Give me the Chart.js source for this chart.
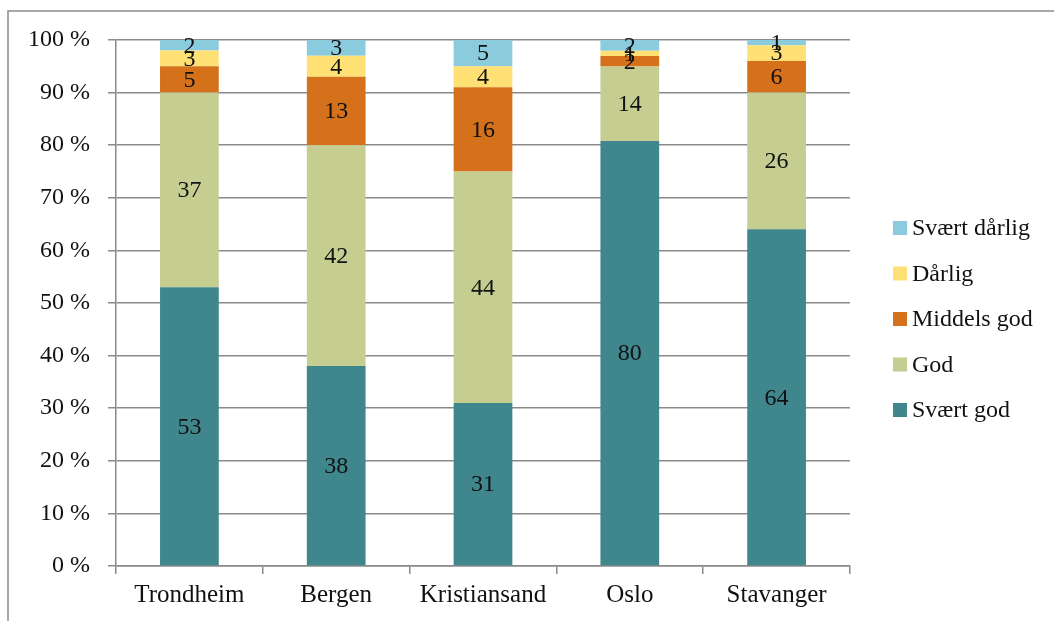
<!DOCTYPE html>
<html lang="no">
<head>
<meta charset="utf-8">
<title>Vurdering etter by</title>
<script src="https://cdn.jsdelivr.net/npm/chart.js@4/dist/chart.umd.min.js"></script>
<style>
  html, body { margin: 0; padding: 0; background: #ffffff; }
  #wrap { position: relative; width: 1054px; height: 621px; }
</style>
</head>
<body>
<div id="wrap"><canvas id="chart" width="1054" height="621"></canvas></div>
<script>
// Cities along the x axis
const cities = ['Trondheim', 'Bergen', 'Kristiansand', 'Oslo', 'Stavanger'];

// Answer counts per rating (shown as labels, stacked to 100 %)
const svaertGod    = [53, 38, 31, 80, 64];
const god          = [37, 42, 44, 14, 26];
const middelsGod   = [5, 13, 16, 2, 6];
const daarlig      = [3, 4, 4, 1, 3];
const svaertDaarlig = [2, 3, 5, 2, 1];

// Y axis ticks (percent)
const yTicks = [0, 10, 20, 30, 40, 50, 60, 70, 80, 90, 100];

const seriesNames  = ['Svært god', 'God', 'Middels god', 'Dårlig', 'Svært dårlig'];
const seriesCounts = [svaertGod, god, middelsGod, daarlig, svaertDaarlig];
const seriesColors = ['#3f878d', '#c5cd91', '#d4711a', '#ffe075', '#8bcbde'];

const FONT = '"Liberation Serif", "DejaVu Serif", serif';

// Column totals, used to turn counts into shares of 100 %
const totals = cities.map((_, i) => seriesCounts.reduce((s, arr) => s + arr[i], 0));

const datasets = seriesNames.map((name, k) => ({
  label: name,
  data: seriesCounts[k].map((v, i) => v / totals[i] * 100),
  counts: seriesCounts[k],
  backgroundColor: seriesColors[k],
  borderWidth: 0,
  barPercentage: 0.4,
  categoryPercentage: 1.0
}));

// Count labels centred in each segment
const segmentLabels = {
  id: 'segmentLabels',
  afterDatasetsDraw(chart) {
    const ctx = chart.ctx;
    ctx.save();
    ctx.font = '24px ' + FONT;
    ctx.fillStyle = '#111111';
    ctx.textAlign = 'center';
    ctx.textBaseline = 'middle';
    chart.data.datasets.forEach((ds, di) => {
      const meta = chart.getDatasetMeta(di);
      meta.data.forEach((bar, i) => {
        const p = bar.getCenterPoint();
        ctx.fillText(String(ds.counts[i]), p.x, p.y + 1);
      });
    });
    ctx.restore();
  }
};

// Legend on the right, top entry = last series
const sideLegend = {
  id: 'sideLegend',
  afterDraw(chart) {
    const ctx = chart.ctx;
    const area = chart.chartArea;
    const x0 = area.right + 43;
    const yTop = area.top + 188;
    const step = 45.5;
    ctx.save();
    ctx.font = '24px ' + FONT;
    ctx.textAlign = 'left';
    ctx.textBaseline = 'middle';
    const items = chart.data.datasets.slice().reverse();
    items.forEach((ds, j) => {
      const cy = yTop + j * step;
      ctx.fillStyle = ds.backgroundColor;
      ctx.fillRect(x0, cy - 7, 14, 14);
      ctx.fillStyle = '#111111';
      ctx.fillText(ds.label, x0 + 19, cy + 1);
    });
    ctx.restore();
  }
};

// Thin outer frame of the chart object
const outerFrame = {
  id: 'outerFrame',
  beforeDraw(chart) {
    const ctx = chart.ctx;
    ctx.save();
    ctx.strokeStyle = '#8a8a8a';
    ctx.lineWidth = 1.5;
    ctx.beginPath();
    ctx.moveTo(8, chart.height + 2);
    ctx.lineTo(8, 11);
    ctx.lineTo(chart.width + 2, 11);
    ctx.stroke();
    ctx.restore();
  }
};

new Chart(document.getElementById('chart'), {
  type: 'bar',
  data: { labels: cities, datasets },
  plugins: [outerFrame, segmentLabels, sideLegend],
  options: {
    responsive: false,
    animation: false,
    layout: { padding: { left: 10, right: 204, top: 40, bottom: 5 } },
    plugins: {
      legend: { display: false },
      tooltip: { enabled: false },
      title: { display: false }
    },
    scales: {
      x: {
        stacked: true,
        grid: {
          display: true,
          offset: true,
          drawOnChartArea: false,
          drawTicks: true,
          tickLength: 8,
          color: '#8a8a8a',
          lineWidth: 1.5
        },
        border: { display: true, color: '#8a8a8a', width: 1.5 },
        ticks: {
          color: '#111111',
          padding: 6,
          font: { family: FONT, size: 25 },
          maxRotation: 0
        }
      },
      y: {
        stacked: true,
        min: 0,
        max: 100,
        afterBuildTicks(scale) {
          scale.ticks = yTicks.map(v => ({ value: v }));
        },
        grid: {
          color: '#8a8a8a',
          lineWidth: 1.5,
          tickLength: 8
        },
        border: { display: true, color: '#8a8a8a', width: 1.5 },
        ticks: {
          color: '#111111',
          padding: 18,
          font: { family: FONT, size: 24 },
          callback: v => v + ' %'
        }
      }
    }
  }
});
</script>
</body>
</html>
